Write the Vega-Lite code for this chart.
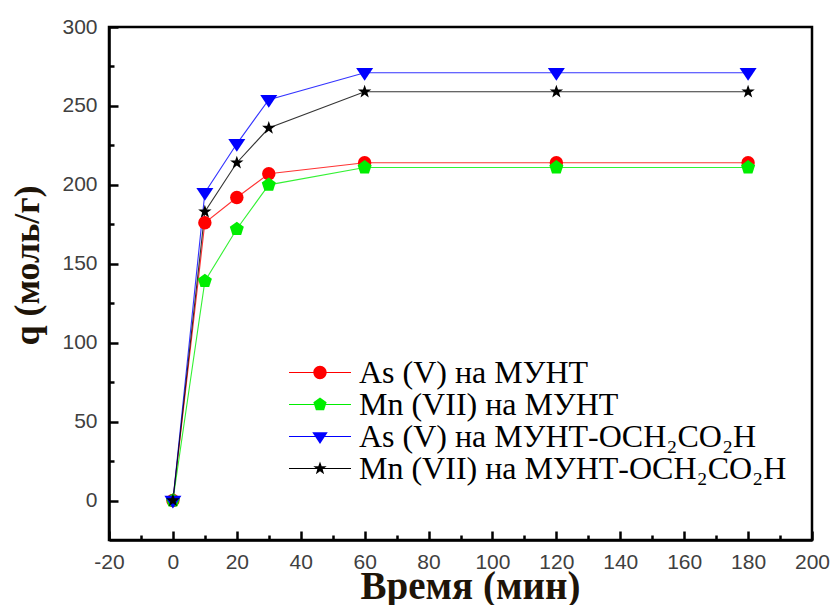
{
  "$schema": "https://vega.github.io/schema/vega-lite/v6.json",
  "autosize": {"type": "none"},
  "width": 703,
  "height": 513,
  "padding": {"left": 109, "top": 27, "right": 28, "bottom": 65},
  "background": "white",
  "config": {
    "view": {"stroke": "#000000", "strokeWidth": 2.5},
    "axis": {
      "grid": false,
      "domainColor": "#000000",
      "domainWidth": 2.5,
      "tickColor": "#000000",
      "tickWidth": 2.5,
      "labelFont": "Liberation Sans",
      "labelFontSize": 21,
      "labelColor": "#404040",
      "titleFont": "Liberation Serif",
      "titleFontWeight": "bold",
      "titleFontSize": 36,
      "titleColor": "#1e1408"
    }
  },
  "data": {
    "values": [
      {"series": "As (V) на МУНТ", "t": 0, "q": 0},
      {"series": "As (V) на МУНТ", "t": 10, "q": 176},
      {"series": "As (V) на МУНТ", "t": 20, "q": 192},
      {"series": "As (V) на МУНТ", "t": 30, "q": 207},
      {"series": "As (V) на МУНТ", "t": 60, "q": 214},
      {"series": "As (V) на МУНТ", "t": 120, "q": 214},
      {"series": "As (V) на МУНТ", "t": 180, "q": 214},
      {"series": "Mn (VII) на МУНТ", "t": 0, "q": 0},
      {"series": "Mn (VII) на МУНТ", "t": 10, "q": 139},
      {"series": "Mn (VII) на МУНТ", "t": 20, "q": 172},
      {"series": "Mn (VII) на МУНТ", "t": 30, "q": 200},
      {"series": "Mn (VII) на МУНТ", "t": 60, "q": 211},
      {"series": "Mn (VII) на МУНТ", "t": 120, "q": 211},
      {"series": "Mn (VII) на МУНТ", "t": 180, "q": 211},
      {"series": "As (V) на МУНТ-OCH₂CO₂H", "t": 0, "q": 0},
      {"series": "As (V) на МУНТ-OCH₂CO₂H", "t": 10, "q": 195},
      {"series": "As (V) на МУНТ-OCH₂CO₂H", "t": 20, "q": 226},
      {"series": "As (V) на МУНТ-OCH₂CO₂H", "t": 30, "q": 254},
      {"series": "As (V) на МУНТ-OCH₂CO₂H", "t": 60, "q": 271},
      {"series": "As (V) на МУНТ-OCH₂CO₂H", "t": 120, "q": 271},
      {"series": "As (V) на МУНТ-OCH₂CO₂H", "t": 180, "q": 271},
      {"series": "Mn (VII) на МУНТ-OCH₂CO₂H", "t": 0, "q": 0},
      {"series": "Mn (VII) на МУНТ-OCH₂CO₂H", "t": 10, "q": 183},
      {"series": "Mn (VII) на МУНТ-OCH₂CO₂H", "t": 20, "q": 214},
      {"series": "Mn (VII) на МУНТ-OCH₂CO₂H", "t": 30, "q": 236},
      {"series": "Mn (VII) на МУНТ-OCH₂CO₂H", "t": 60, "q": 259},
      {"series": "Mn (VII) на МУНТ-OCH₂CO₂H", "t": 120, "q": 259},
      {"series": "Mn (VII) на МУНТ-OCH₂CO₂H", "t": 180, "q": 259}
    ]
  },
  "encoding": {
    "x": {
      "field": "t",
      "type": "quantitative",
      "scale": {"domain": [-20, 200], "nice": false, "zero": false},
      "axis": {
        "title": "Время (мин)",
        "values": [-20, -10, 0, 10, 20, 30, 40, 50, 60, 70, 80, 90, 100, 110, 120, 130, 140, 150, 160, 170, 180, 190, 200],
        "labelExpr": "datum.value % 20 === 0 ? '' + datum.value : ''",
        "tickSize": {"condition": {"test": "datum.value % 20 === 0", "value": -9}, "value": -5},
        "labelPadding": 20,
        "titleFontSize": 39,
        "titleBaseline": "alphabetic",
        "titleX": 361,
        "titleY": 58,
        "labelFlush": false,
        "labelOverlap": false
      }
    },
    "y": {
      "field": "q",
      "type": "quantitative",
      "scale": {"domain": [-25, 300], "nice": false, "zero": false},
      "axis": {
        "title": "q (моль/г)",
        "values": [0, 25, 50, 75, 100, 125, 150, 175, 200, 225, 250, 275, 300],
        "labelExpr": "datum.value % 50 === 0 ? '' + datum.value : ''",
        "tickSize": {"condition": {"test": "datum.value % 50 === 0", "value": -9}, "value": -5},
        "labelPadding": 21,
        "titlePadding": 15,
        "titleY": 238,
        "labelFlush": false,
        "labelOverlap": false
      }
    },
    "color": {
      "field": "series",
      "type": "nominal",
      "scale": {
        "domain": ["As (V) на МУНТ", "Mn (VII) на МУНТ", "As (V) на МУНТ-OCH₂CO₂H", "Mn (VII) на МУНТ-OCH₂CO₂H"],
        "range": ["#ff0000", "#00ee00", "#0000ff", "#000000"]
      },
      "legend": {
        "title": null,
        "orient": "none",
        "legendX": 180,
        "legendY": 330,
        "padding": 0,
        "symbolSize": 3844,
        "symbolStrokeWidth": 0,
        "symbolOpacity": 1,
        "clipHeight": 31,
        "rowPadding": -2,
        "symbolOffset": 0,
        "labelOffset": 8,
        "labelFont": "Liberation Serif",
        "labelFontSize": 32,
        "labelColor": "#000000",
        "labelLimit": 0
      }
    }
  },
  "layer": [
    {
      "mark": {"type": "line", "strokeWidth": 1.1, "opacity": 0.8},
      "encoding": {}
    },
    {
      "transform": [{"filter": "false"}],
      "mark": {"type": "point", "filled": true, "opacity": 1},
      "encoding": {
        "shape": {
          "field": "series",
          "type": "nominal",
          "legend": null,
          "scale": {
            "domain": ["As (V) на МУНТ", "Mn (VII) на МУНТ", "As (V) на МУНТ-OCH₂CO₂H", "Mn (VII) на МУНТ-OCH₂CO₂H"],
            "range": [
              "M-1,-0.02L1,-0.02L1,0.02L-1,0.02ZM0.215,0A0.215,0.215,0,1,1,-0.215,0A0.215,0.215,0,1,1,0.215,0Z",
              "M-1,-0.02L1,-0.02L1,0.02L-1,0.02ZM0,-0.225L0.214,-0.07L0.132,0.182L-0.132,0.182L-0.214,-0.07Z",
              "M-1,-0.02L1,-0.02L1,0.02L-1,0.02ZM-0.25,-0.14L0.25,-0.14L0,0.24Z",
              "M-1,-0.02L1,-0.02L1,0.02L-1,0.02ZM0,-0.227L0.0535,-0.0736L0.216,-0.07L0.0865,0.0281L0.133,0.184L0,0.091L-0.133,0.184L-0.0865,0.0281L-0.216,-0.07L-0.0535,-0.0736Z"
            ]
          }
        }
      }
    },
    {
      "transform": [{"filter": "datum.series === 'As (V) на МУНТ'"}],
      "mark": {"type": "point", "filled": true, "opacity": 1, "size": 180, "shape": "circle"},
      "encoding": {}
    },
    {
      "transform": [{"filter": "datum.series === 'Mn (VII) на МУНТ'"}],
      "mark": {"type": "point", "filled": true, "opacity": 1, "size": 180, "shape": "M0,-1.1L1.046,-0.34L0.647,0.89L-0.647,0.89L-1.046,-0.34Z"},
      "encoding": {}
    },
    {
      "transform": [{"filter": "datum.series === 'As (V) на МУНТ-OCH₂CO₂H'"}],
      "mark": {"type": "point", "filled": true, "opacity": 1, "size": 180, "shape": "M-1.27,-0.7L1.27,-0.7L0,1.2Z"},
      "encoding": {}
    },
    {
      "transform": [{"filter": "datum.series === 'Mn (VII) на МУНТ-OCH₂CO₂H'"}],
      "mark": {"type": "point", "filled": true, "opacity": 1, "size": 180, "shape": "M0,-1.05L0.247,-0.34L0.999,-0.324L0.399,0.13L0.617,0.849L0,0.42L-0.617,0.849L-0.399,0.13L-0.999,-0.324L-0.247,-0.34Z"},
      "encoding": {}
    }
  ]
}
